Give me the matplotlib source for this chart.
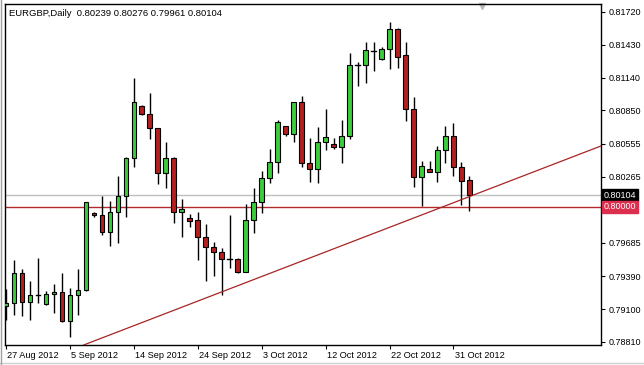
import matplotlib
matplotlib.use("Agg")
import matplotlib.pyplot as plt
from matplotlib.patches import Rectangle
import matplotlib.transforms as mtransforms
import pandas as pd

# ---- data -------------------------------------------------------------
symbol_title = "EURGBP,Daily  0.80239 0.80276 0.79961 0.80104"
start_date = "2012-08-27"

opens = [0.79127, 0.79151, 0.79415, 0.79160, 0.79227, 0.79142, 0.79230, 0.79251, 0.78992, 0.79224,
         0.79268, 0.79944, 0.79932, 0.79782, 0.79953, 0.80096, 0.80429, 0.80889, 0.80816, 0.80693,
         0.80296, 0.80429, 0.79958, 0.79903, 0.79885, 0.79738, 0.79650, 0.79606, 0.79539, 0.79539,
         0.79429, 0.79885, 0.80044, 0.80252, 0.80393, 0.80713, 0.80640, 0.80922, 0.80384, 0.80332,
         0.80575, 0.80552, 0.80531, 0.80625, 0.81250, 0.81250, 0.81376, 0.81301, 0.81391, 0.81568,
         0.81339, 0.80860, 0.80261, 0.80332, 0.80310, 0.80502, 0.80625, 0.80349, 0.80239]
highs = [0.79274, 0.79532, 0.79451, 0.79347, 0.79550, 0.79259, 0.79321, 0.79421, 0.79283, 0.79451,
         0.80046, 0.79958, 0.80096, 0.80052, 0.80273, 0.80443, 0.81139, 0.80895, 0.81006, 0.80699,
         0.80575, 0.80443, 0.80067, 0.79938, 0.79955, 0.79850, 0.79691, 0.79636, 0.79929, 0.79548,
         0.80026, 0.80167, 0.80317, 0.80508, 0.80766, 0.80716, 0.80927, 0.80980, 0.80605, 0.80702,
         0.80860, 0.80605, 0.80766, 0.81359, 0.81280, 0.81456, 0.81456, 0.81412, 0.81632, 0.81574,
         0.81456, 0.80966, 0.80405, 0.80405, 0.80537, 0.80713, 0.80737, 0.80399, 0.80276]
lows = [0.79004, 0.79048, 0.79039, 0.79004, 0.79151, 0.79136, 0.79063, 0.78989, 0.78857, 0.79048,
        0.79262, 0.79909, 0.79753, 0.79656, 0.79685, 0.79914, 0.80354, 0.80810, 0.80596, 0.80202,
        0.80164, 0.79861, 0.79738, 0.79826, 0.79532, 0.79350, 0.79392, 0.79224, 0.79459, 0.79415,
        0.79423, 0.79773, 0.79949, 0.80214, 0.80296, 0.80628, 0.80575, 0.80354, 0.80222, 0.80214,
        0.80502, 0.80508, 0.80384, 0.80596, 0.81065, 0.81089, 0.81198, 0.81295, 0.81215, 0.81227,
        0.80760, 0.80178, 0.80008, 0.80305, 0.80222, 0.80390, 0.80273, 0.80017, 0.79961]
closes = [0.79151, 0.79415, 0.79160, 0.79221, 0.79229, 0.79230, 0.79251, 0.78992, 0.79224, 0.79268,
          0.80041, 0.79926, 0.79782, 0.79953, 0.80096, 0.80429, 0.80922, 0.80816, 0.80693, 0.80296,
          0.80429, 0.79958, 0.79979, 0.79879, 0.79738, 0.79650, 0.79606, 0.79539, 0.79541, 0.79429,
          0.79885, 0.80044, 0.80252, 0.80393, 0.80746, 0.80640, 0.80922, 0.80384, 0.80332, 0.80575,
          0.80619, 0.80531, 0.80625, 0.81250, 0.81248, 0.81383, 0.81378, 0.81391, 0.81568, 0.81324,
          0.80860, 0.80261, 0.80361, 0.80310, 0.80502, 0.80625, 0.80349, 0.80231, 0.80104]

date_labels = ["27 Aug 2012", "5 Sep 2012", "14 Sep 2012", "24 Sep 2012",
               "3 Oct 2012", "12 Oct 2012", "22 Oct 2012", "31 Oct 2012"]
label_dates = ["2012-08-27", "2012-09-05", "2012-09-14", "2012-09-24",
               "2012-10-03", "2012-10-12", "2012-10-22", "2012-10-31"]

price_ticks = [0.81720, 0.81430, 0.81140, 0.80850, 0.80555, 0.80265,
               0.79685, 0.79390, 0.79100, 0.78810]
bid_price = 0.80104
level_price = 0.80000
trend_dates = ["2012-09-26", "2012-11-02"]
trend_prices = [0.79224, 0.80091]

# ---- style ------------------------------------------------------------
BULL = "#3ccc3c"
BEAR = "#b51f1f"
FONT = ["Liberation Sans", "DejaVu Sans"]
FS = 6.5

W, H = 644, 365
fig = plt.figure(figsize=(W / 100, H / 100), dpi=100)
fig.patch.set_facecolor("white")
ax = fig.add_axes([5 / W, 1 - 345 / H, (601 - 5) / W, (345 - 4) / H])
ax.set_facecolor("white")

# bars include Sunday sessions (MetaTrader broker feed)
dates = pd.bdate_range(start=start_date, periods=len(opens), freq="C",
                       weekmask="Sun Mon Tue Wed Thu Fri")
pos = {d.strftime("%Y-%m-%d"): i for i, d in enumerate(dates)}

bw = 0.58
for i, (o, h, l, c) in enumerate(zip(opens, highs, lows, closes)):
    ax.plot([i, i], [l, h], color="black", lw=1.0, zorder=2, solid_capstyle="butt")
    lo, hi = min(o, c), max(o, c)
    if hi - lo < 0.00003:
        ax.plot([i - bw / 2, i + bw / 2], [o, o], color="black", lw=1.0, zorder=3)
    else:
        col = BULL if c > o else BEAR
        ax.add_patch(Rectangle((i - bw / 2, lo), bw, hi - lo, facecolor=col,
                               edgecolor="black", lw=0.8, zorder=3))

# horizontal lines
ax.axhline(bid_price, color="#c0c0c0", lw=1.0, zorder=1)
ax.axhline(level_price, color="#b22a2a", lw=1.0, zorder=1)

# trend line
ax.axline((pos[trend_dates[0]], trend_prices[0]), (pos[trend_dates[1]], trend_prices[1]),
          color="#a82424", lw=0.9, zorder=4)

ax.set_xlim(-0.12, 74.46)
ax.set_ylim(0.78783, 0.81788)

# x ticks
ax.set_xticks([pos[d] for d in label_dates])
ax.set_xticklabels(date_labels, fontsize=6.6, family=FONT, ha="left")
ax.tick_params(axis="x", direction="out", length=3, width=0.8, pad=1.5, colors="black")
for lab in ax.get_xticklabels():
    lab.set_transform(lab.get_transform() + mtransforms.ScaledTranslation(1.5 / 100, 0, fig.dpi_scale_trans))

# y ticks on right
ax.yaxis.tick_right()
ax.set_yticks(price_ticks)
ax.set_yticklabels([f"{p:.5f}" for p in price_ticks], fontsize=FS, family=FONT)
ax.tick_params(axis="y", direction="out", length=3, width=0.8, pad=2.5, colors="black")

for s in ax.spines.values():
    s.set_color("black")
    s.set_linewidth(1.0)

# price boxes
trans = mtransforms.blended_transform_factory(ax.transAxes, ax.transData)
ax.text(1.004, bid_price, f"{bid_price:.5f}", transform=trans, fontsize=FS, family=FONT,
        color="white", va="center", ha="left",
        bbox=dict(boxstyle="square,pad=0.2", facecolor="black", edgecolor="black"), zorder=10, clip_on=False)
ax.text(1.004, level_price, f"{level_price:.5f}", transform=trans, fontsize=FS, family=FONT,
        color="white", va="center", ha="left",
        bbox=dict(boxstyle="square,pad=0.2", facecolor="#dc2f4f", edgecolor="#dc2f4f"), zorder=10, clip_on=False)

# title
ax.text(0.007, 0.985, symbol_title, transform=ax.transAxes, fontsize=6.8, family=FONT,
        va="top", ha="left", color="black")

# chart shift marker
ax.plot([59.6], [0.9955], marker="v", markersize=5, color="#b8b8b8",
        transform=mtransforms.blended_transform_factory(ax.transData, ax.transAxes), clip_on=False)

# window border
fig.add_artist(plt.Line2D([0, 1], [2 / H, 2 / H], color="#d0d0d0", lw=1, transform=fig.transFigure))
fig.add_artist(plt.Line2D([1 / W, 1 / W], [0, 1], color="#a0a0a0", lw=1, transform=fig.transFigure))

fig.savefig("out.png", dpi=100)
